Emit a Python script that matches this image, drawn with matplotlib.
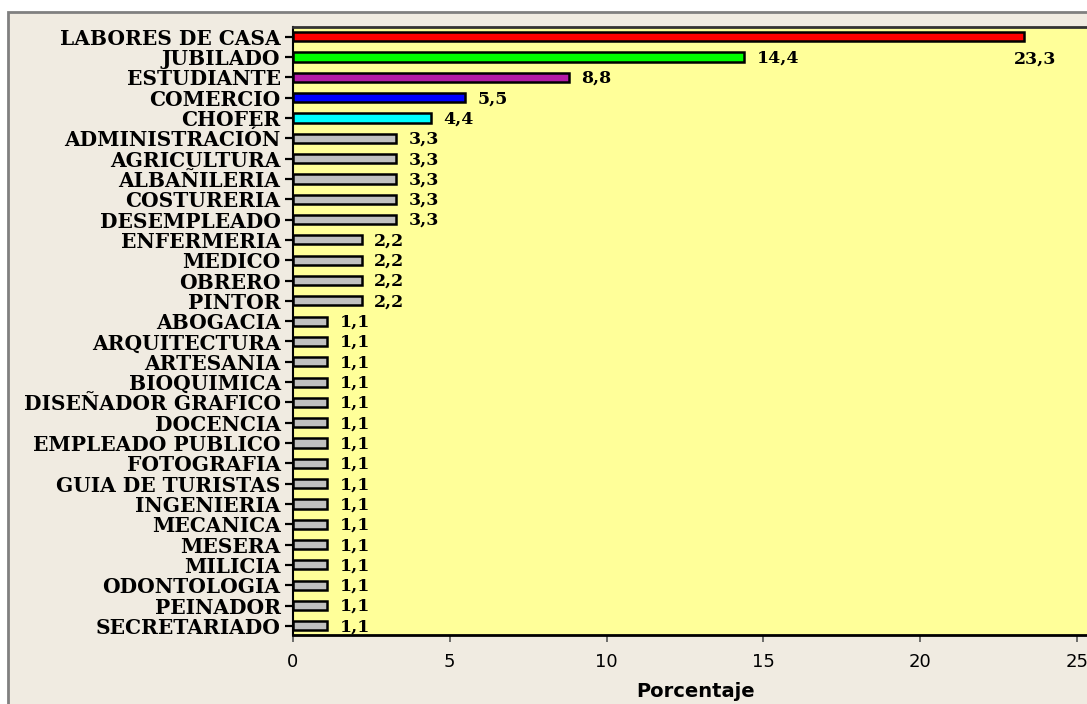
import matplotlib
matplotlib.use("Agg")
import matplotlib.pyplot as plt
from matplotlib.patches import Rectangle

# Occupations and their share (%)
categories = [
    "LABORES DE CASA", "JUBILADO", "ESTUDIANTE", "COMERCIO", "CHOFER",
    "ADMINISTRACIÓN", "AGRICULTURA", "ALBAÑILERIA", "COSTURERIA", "DESEMPLEADO",
    "ENFERMERIA", "MEDICO", "OBRERO", "PINTOR",
    "ABOGACIA", "ARQUITECTURA", "ARTESANIA", "BIOQUIMICA", "DISEÑADOR GRAFICO",
    "DOCENCIA", "EMPLEADO PUBLICO", "FOTOGRAFIA", "GUIA DE TURISTAS",
    "INGENIERIA", "MECANICA", "MESERA", "MILICIA", "ODONTOLOGIA",
    "PEINADOR", "SECRETARIADO",
]
values = [
    23.3, 14.4, 8.8, 5.5, 4.4,
    3.3, 3.3, 3.3, 3.3, 3.3,
    2.2, 2.2, 2.2, 2.2,
    1.1, 1.1, 1.1, 1.1, 1.1,
    1.1, 1.1, 1.1, 1.1,
    1.1, 1.1, 1.1, 1.1, 1.1,
    1.1, 1.1,
]
bar_colors = ["#FF0000", "#00FF00", "#B41BA6", "#0000FF", "#00FFFF"] + ["#C0C0C0"] * 25
x_ticks = [0, 5, 10, 15, 20, 25]

W, H = 1087, 704
fig = plt.figure(figsize=(W / 100, H / 100), dpi=100, facecolor="white")

# beige panel with grey frame
fig.patches.append(Rectangle((8 / W, -0.02), 1.1, (H - 12) / H + 0.02,
                             transform=fig.transFigure, facecolor="#F0EBE1",
                             edgecolor="#808080", linewidth=2, zorder=-10))

ax_left, ax_top, ax_bot = 293, 27, 635
ax = fig.add_axes([ax_left / W, 1 - ax_bot / H, (W - ax_left) / W + 0.01,
                   (ax_bot - ax_top) / H])
ax.set_facecolor("#FFFF99")

n = len(categories)
ypos = list(range(n))
ax.barh(ypos, values, height=0.45, color=bar_colors, edgecolor="black",
        linewidth=1.8, zorder=3)

ax.set_ylim(n - 1 + 0.45, -0.48)
px_per_unit = 31.32
ax.set_xlim(0, (W - ax_left) / px_per_unit + 0.32)

ax.set_yticks(ypos)
ax.set_yticklabels(categories, fontfamily="DejaVu Serif", fontweight="bold",
                   fontsize=14.5)
ax.tick_params(axis="y", length=6, width=1.6, color="black", pad=3)
ax.set_xticks(x_ticks)
ax.set_xticklabels([str(t) for t in x_ticks], fontfamily="DejaVu Sans", fontsize=13)
ax.tick_params(axis="x", length=5, width=1.2, color="#555555", pad=8)

for side in ["top", "right"]:
    ax.spines[side].set_visible(False)
ax.spines["left"].set_linewidth(1.5)
ax.spines["bottom"].set_linewidth(2)
ax.axhline(-0.48, color="#333333", linewidth=2, clip_on=False, zorder=5)

ax.set_xlabel("Porcentaje", fontfamily="DejaVu Sans", fontweight="bold",
              fontsize=14, labelpad=8)

# value labels
for i, v in enumerate(values):
    txt = f"{v:.1f}".replace(".", ",")
    if i == 0:
        ax.text(v - 0.3, 1.1, txt, fontfamily="DejaVu Serif",
                fontweight="bold", fontsize=12.5, va="center", ha="left", zorder=4)
    else:
        ax.text(v + 0.38, i + 0.05, txt, fontfamily="DejaVu Serif",
                fontweight="bold", fontsize=12.5, va="center", ha="left", zorder=4)

fig.savefig("out.png", dpi=100, facecolor=fig.get_facecolor())
